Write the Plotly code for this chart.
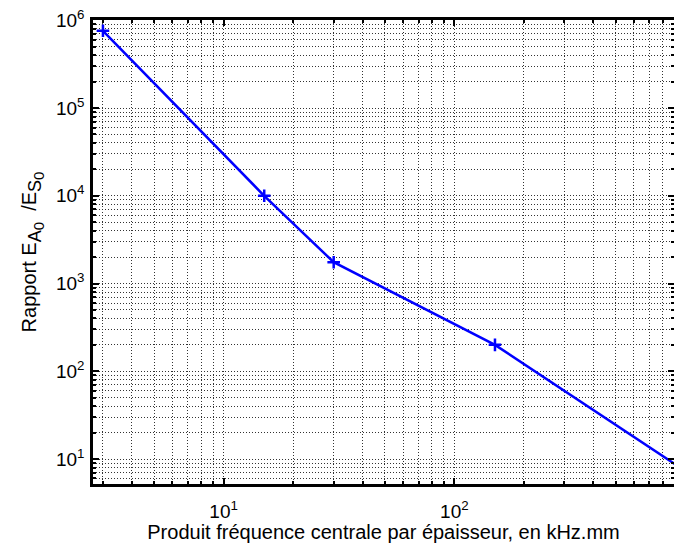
import plotly.graph_objects as go

# produit fréquence x épaisseur (kHz.mm) et rapport des énergies
freq_thick = [3, 15, 30, 150, 1500]
energy_ratio = [7.6e5, 1.0e4, 1.75e3, 200, 3.6]

x_ticks = [10, 100]
x_ticktext = ["10<sup>1</sup>", "10<sup>2</sup>"]
y_ticks = [10, 100, 1e3, 1e4, 1e5, 1e6]
y_ticktext = ["10<sup>1</sup>", "10<sup>2</sup>", "10<sup>3</sup>",
              "10<sup>4</sup>", "10<sup>5</sup>", "10<sup>6</sup>"]

x_label = "Produit fréquence centrale par épaisseur, en kHz.mm"
y_label = ("Rapport E<sub><span style='font-size:18px'>A</span>"
           "<sub><span style='font-size:15px'>0</span></sub></sub>  /E"
           "<sub><span style='font-size:18px'>S</span>"
           "<sub><span style='font-size:15px'>0</span></sub></sub>")

font = "Liberation Sans, Arial"
grid_style = dict(showgrid=True, gridcolor="#333", gridwidth=1, griddash="1px,2px")

fig = go.Figure()
fig.add_trace(go.Scatter(
    x=freq_thick, y=energy_ratio,
    mode="lines+markers",
    line=dict(color="#0000ff", width=2.5),
    marker=dict(symbol="cross-thin", size=9, line=dict(color="#0000ff", width=2.5)),
))

axis_common = dict(
    type="log", automargin=False,
    showline=True, linecolor="black", linewidth=2.5, mirror="ticks",
    ticks="inside", ticklen=6, tickwidth=2, tickcolor="black",
    zeroline=False, ticklabeloverflow="allow",
    tickfont=dict(family=font, size=19, color="black"),
    minor=dict(dtick="D1", ticks="inside", ticklen=3, tickcolor="black", **grid_style),
    **grid_style,
)

fig.update_xaxes(
    range=[0.434, 2.952],
    tickmode="array", tickvals=x_ticks, ticktext=x_ticktext,
    ticklabelstandoff=8,
    title=dict(text=x_label, font=dict(family=font, size=20, color="black"), standoff=6),
    **axis_common,
)
fig.update_yaxes(
    range=[0.715, 6.004],
    tickmode="array", tickvals=y_ticks, ticktext=y_ticktext,
    ticklabelstandoff=2,
    title=dict(text=y_label, font=dict(family=font, size=20, color="black"), standoff=14),
    **axis_common,
)

fig.update_layout(
    width=674, height=543,
    margin=dict(l=93, r=0, t=20, b=59),
    paper_bgcolor="white", plot_bgcolor="white",
    showlegend=False,
)

# drop the default page margin so the figure fills the window, and hide the modebar
fig.write_html("out.html", config={"displayModeBar": False},
               post_script="document.body.style.margin='0';")
